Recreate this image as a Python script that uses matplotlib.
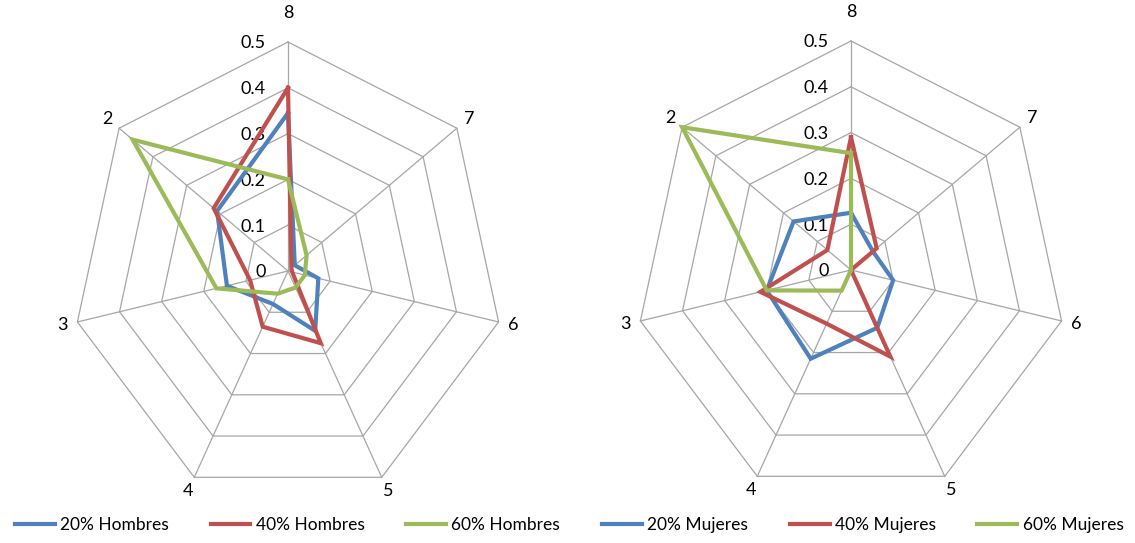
import numpy as np
import matplotlib.pyplot as plt

plt.rcParams["font.family"] = ["Lato", "DejaVu Sans"]

categories = ["8", "7", "6", "5", "4", "3", "2"]
ring_values = [0.1, 0.2, 0.3, 0.4, 0.5]
tick_values = [0, 0.1, 0.2, 0.3, 0.4, 0.5]
tick_labels = ["0", "0.1", "0.2", "0.3", "0.4", "0.5"]

hombres_20 = [0.345, 0.02, 0.072, 0.145, 0.08, 0.145, 0.21]
hombres_40 = [0.40, 0.01, 0.01, 0.175, 0.135, 0.09, 0.22]
hombres_60 = [0.20, 0.055, 0.04, 0.04, 0.055, 0.17, 0.46]

mujeres_20 = [0.125, 0.065, 0.10, 0.14, 0.215, 0.20, 0.17]
mujeres_40 = [0.29, 0.076, 0.0, 0.21, 0.13, 0.215, 0.07]
mujeres_60 = [0.255, 0.0, 0.0, 0.0, 0.05, 0.20, 0.50]

colors = ["#4F81BD", "#C0504D", "#9BBB59"]
grid_color = "#A6A6A6"

n = len(categories)
angles = np.arange(n) * 2 * np.pi / n  # clockwise from the top


def to_xy(values):
    v = np.asarray(values, dtype=float)
    x = v * np.sin(angles)
    y = v * np.cos(angles)
    return np.append(x, x[0]), np.append(y, y[0])


def radar(ax, series, labels):
    # rings and spokes
    for r in ring_values:
        gx, gy = to_xy([r] * n)
        ax.plot(gx, gy, color=grid_color, lw=0.9, zorder=1)
    for a in angles:
        ax.plot([0, 0.5 * np.sin(a)], [0, 0.5 * np.cos(a)],
                color=grid_color, lw=0.9, zorder=1)
    # category labels outside the outer ring
    for i, (a, cat) in enumerate(zip(angles, categories)):
        dist = 21 if i == 0 else 11
        ax.annotate(cat, xy=(0.5 * np.sin(a), 0.5 * np.cos(a)),
                    xytext=(dist * np.sin(a), dist * np.cos(a)),
                    textcoords="offset points", ha="center", va="center",
                    fontsize=13, annotation_clip=False)
    # value labels along the vertical spoke
    for v, t in zip(tick_values, tick_labels):
        ax.annotate(t, xy=(0, v), xytext=(-16, -1), textcoords="offset points",
                    ha="right", va="center", fontsize=13)
    lines = []
    for vals, c, lab in zip(series, colors, labels):
        sx, sy = to_xy(vals)
        ln, = ax.plot(sx, sy, color=c, lw=3.0, zorder=3, label=lab,
                      solid_joinstyle="miter")
        lines.append(ln)
    ax.set_xlim(-0.6, 0.6)
    ax.set_ylim(-0.55, 0.55)
    ax.axis("off")
    return lines


W, H = 1135, 543
fig = plt.figure(figsize=(W / 100, H / 100), dpi=100)

# pixel geometry: center, horizontal and vertical radius of the 0.5 ring
rh, rv = 216, 229
half_w = 0.6 / 0.5 * rh
half_h = 0.55 / 0.5 * rv


def add_radar_axes(cx, cy):
    left = (cx - half_w) / W
    bottom = (H - (cy + half_h)) / H
    return fig.add_axes([left, bottom, 2 * half_w / W, 2 * half_h / H])


ax1 = add_radar_axes(288, 271)
ax2 = add_radar_axes(851, 270)

h_lines = radar(ax1, [hombres_20, hombres_40, hombres_60],
                ["20% Hombres", "40% Hombres", "60% Hombres"])
m_lines = radar(ax2, [mujeres_20, mujeres_40, mujeres_60],
                ["20% Mujeres", "40% Mujeres", "60% Mujeres"])

handles = h_lines + m_lines
fig.legend(handles=handles, labels=[h.get_label() for h in handles],
           loc="lower left", bbox_to_anchor=(0.004, 0.0, 0.995, 0.05),
           mode="expand", ncol=6, frameon=False, fontsize=12.5,
           handlelength=2.3, handletextpad=0.3, borderaxespad=0.2)

fig.savefig("out.png", dpi=100, facecolor="white")
